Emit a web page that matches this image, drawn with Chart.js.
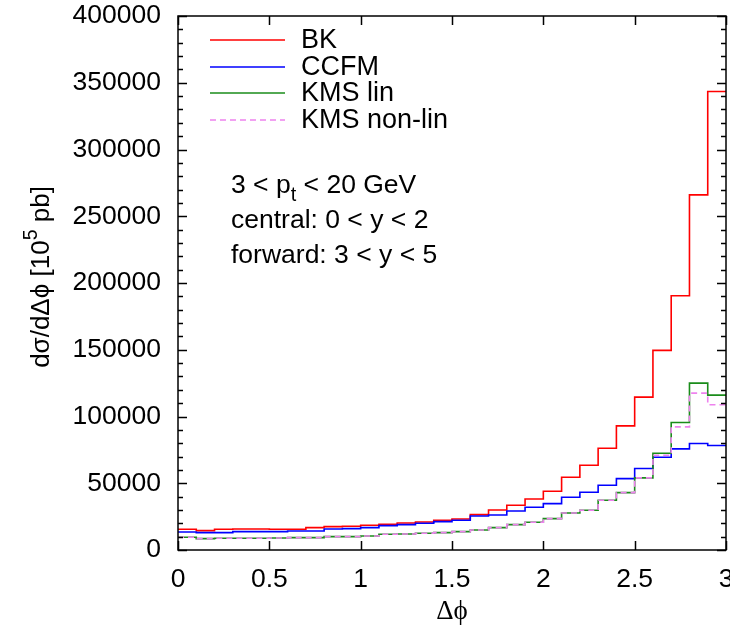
<!DOCTYPE html>
<html>
<head>
<meta charset="utf-8">
<script src="https://cdn.jsdelivr.net/npm/chart.js@4.4.0/dist/chart.umd.min.js"></script>
<style>
    body { margin: 0; background: #fff; }
    canvas { display: block; }
</style>
</head>
<body>
<canvas id="phiChart" width="730" height="628"></canvas>
<script>
// Histogram bin edges in delta phi (last edge closes the final bin)
const binEdges = [0, 0.1, 0.2, 0.3, 0.4, 0.5, 0.6, 0.7, 0.8, 0.9,
    1.0, 1.1, 1.2, 1.3, 1.4, 1.5, 1.6, 1.7, 1.8, 1.9,
    2.0, 2.1, 2.2, 2.3, 2.4, 2.5, 2.6, 2.7, 2.8, 2.9, 3.0];

// Bin contents
const bkValues = [15500, 14500, 15500, 15750, 15750, 15500, 15500, 16750, 17500, 17750,
    18500, 19250, 20250, 21000, 22250, 23250, 26500, 30000, 33500, 38250,
    44000, 54500, 63500, 76250, 93000, 114500, 149500, 190500, 266000, 343500];
const ccfmValues = [13500, 13000, 13000, 13750, 13750, 13750, 14250, 14250, 15750, 16000,
    16750, 18250, 19000, 20000, 21250, 22250, 25500, 26250, 29250, 32000,
    34750, 39500, 43250, 48500, 53500, 61000, 69500, 75750, 79750, 78250];
const kmsLinValues = [9500, 8500, 8750, 8750, 8750, 9000, 9250, 9250, 10000, 10000,
    10500, 11750, 12000, 12500, 13000, 13750, 15000, 16750, 19000, 20750,
    23500, 27750, 29750, 37250, 43000, 54000, 72500, 95500, 125000, 116000];
const kmsNonLinValues = [9500, 8500, 8750, 8750, 8750, 9000, 9250, 9250, 10000, 10000,
    10500, 11750, 12000, 12500, 13000, 13750, 15000, 16750, 19000, 20750,
    23500, 27750, 29750, 37250, 43000, 54000, 71000, 92250, 117500, 108750];

const xTicks = [0, 0.5, 1, 1.5, 2, 2.5, 3];
const xTickLabels = ['0', '0.5', '1', '1.5', '2', '2.5', '3'];
const yTicks = [0, 50000, 100000, 150000, 200000, 250000, 300000, 350000, 400000];
const yTickLabels = ['0', '50000', '100000', '150000', '200000', '250000', '300000', '350000', '400000'];
const yMinorStep = 10000;

const FONT = '"Liberation Sans", Arial, Helvetica, sans-serif';

// Turn bin contents into step points (left edge of each bin + closing edge)
function toSteps(values) {
    return binEdges.map((x, i) => ({ x: x, y: values[Math.min(i, values.length - 1)] }));
}

// Draw a string made of normal / sub / sup pieces
function drawRich(ctx, parts, x, y, size) {
    let cx = x;
    parts.forEach(p => {
        const s = p.sub || p.sup ? size * 0.75 : size;
        ctx.font = s + 'px ' + FONT;
        const dy = p.sub ? size * 0.3 : (p.sup ? -size * 0.4 : 0);
        ctx.fillText(p.t, cx, y + dy);
        cx += ctx.measureText(p.t).width;
    });
    return cx - x;
}

function richWidth(ctx, parts, size) {
    let w = 0;
    parts.forEach(p => {
        const s = p.sub || p.sup ? size * 0.75 : size;
        ctx.font = s + 'px ' + FONT;
        w += ctx.measureText(p.t).width;
    });
    return w;
}

// Frame, inward ticks, labels, legend and annotation (gnuplot look)
const gnuplotFrame = {
    id: 'gnuplotFrame',
    afterDatasetsDraw(chart) {
        const { ctx, chartArea: a, scales: { x, y } } = chart;
        ctx.save();
        ctx.strokeStyle = '#000';
        ctx.fillStyle = '#000';
        ctx.lineWidth = 1.5;

        ctx.strokeRect(a.left, a.top, a.right - a.left, a.bottom - a.top);

        // y minor + major ticks on both sides
        ctx.beginPath();
        for (let v = 0; v <= 400000; v += yMinorStep) {
            const py = Math.round(y.getPixelForValue(v)) + 0.5;
            const len = yTicks.includes(v) ? 9 : 5;
            ctx.moveTo(a.left, py); ctx.lineTo(a.left + len, py);
            ctx.moveTo(a.right, py); ctx.lineTo(a.right - len, py);
        }
        // x ticks top and bottom
        xTicks.forEach(v => {
            const px = Math.round(x.getPixelForValue(v)) + 0.5;
            ctx.moveTo(px, a.bottom); ctx.lineTo(px, a.bottom - 9);
            ctx.moveTo(px, a.top); ctx.lineTo(px, a.top + 9);
        });
        ctx.stroke();

        // tick labels
        ctx.font = '26.5px ' + FONT;
        ctx.textAlign = 'right';
        ctx.textBaseline = 'middle';
        yTicks.forEach((v, i) => {
            ctx.fillText(yTickLabels[i], 161, y.getPixelForValue(v));
        });
        ctx.textAlign = 'center';
        xTicks.forEach((v, i) => {
            ctx.fillText(xTickLabels[i], x.getPixelForValue(v), a.bottom + 30);
        });

        // x title
        ctx.font = '27px "Liberation Serif", "DejaVu Serif", serif';
        ctx.fillText('\u0394\u03D5', (a.left + a.right) / 2, 612);

        // y title, rotated
        const yTitle = [{ t: 'd\u03C3/d\u0394\u03D5 [10' }, { t: '5', sup: true }, { t: ' pb]' }];
        ctx.save();
        ctx.translate(42, 277);
        ctx.rotate(-Math.PI / 2);
        ctx.textAlign = 'left';
        const tw = richWidth(ctx, yTitle, 26);
        drawRich(ctx, yTitle, -tw / 2, 0, 26);
        ctx.restore();

        // legend
        ctx.textAlign = 'left';
        ctx.textBaseline = 'middle';
        const legendY = [40, 67, 93, 120];
        chart.data.datasets.forEach((ds, i) => {
            ctx.beginPath();
            ctx.strokeStyle = ds.borderColor;
            ctx.lineWidth = 1.5;
            ctx.setLineDash(ds.borderDash || []);
            ctx.moveTo(210, legendY[i]); ctx.lineTo(285, legendY[i]);
            ctx.stroke();
            ctx.setLineDash([]);
            ctx.font = '27px ' + FONT;
            ctx.fillText(ds.label, 301, legendY[i] + 1);
        });

        // annotation
        ctx.textBaseline = 'alphabetic';
        drawRich(ctx, [{ t: '3 < p' }, { t: 't', sub: true }, { t: ' < 20 GeV' }], 231, 193, 26.5);
        drawRich(ctx, [{ t: 'central: 0 < y < 2' }], 231, 228, 26.5);
        drawRich(ctx, [{ t: 'forward: 3 < y < 5' }], 231, 263, 26.5);

        ctx.restore();
    }
};

const ctx = document.getElementById('phiChart').getContext('2d');
const chart = new Chart(ctx, {
    type: 'line',
    data: {
        datasets: [
            { label: 'BK', data: toSteps(bkValues), borderColor: '#ff0000', order: 3 },
            { label: 'CCFM', data: toSteps(ccfmValues), borderColor: '#0000ff', order: 2 },
            { label: 'KMS lin', data: toSteps(kmsLinValues), borderColor: '#1a8c1a', order: 1 },
            { label: 'KMS non-lin', data: toSteps(kmsNonLinValues), borderColor: '#ee82ee', borderDash: [6, 4], order: 0 }
        ]
    },
    options: {
        responsive: false,
        animation: false,
        layout: { padding: { left: 178, right: 4, top: 16, bottom: 78 } },
        datasets: { line: { stepped: 'before', borderWidth: 1.6, fill: false, pointRadius: 0 } },
        plugins: {
            legend: { display: false },
            tooltip: { enabled: false }
        },
        scales: {
            x: { type: 'linear', min: 0, max: 3, display: false },
            y: { type: 'linear', min: 0, max: 400000, display: false }
        }
    },
    plugins: [gnuplotFrame]
});
</script>
</body>
</html>
